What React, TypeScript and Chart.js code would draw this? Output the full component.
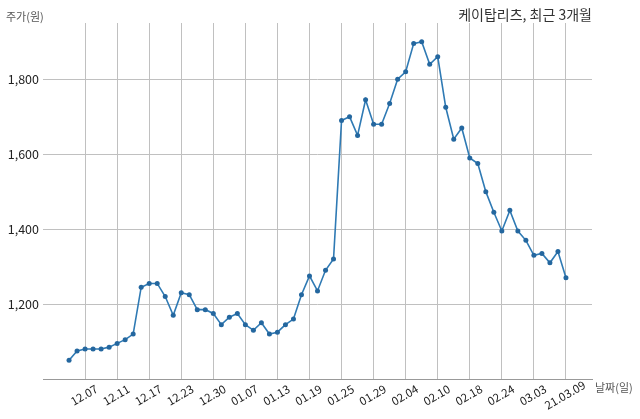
import { useEffect, useRef } from "react";
import { Chart, registerables } from "chart.js";

Chart.register(...registerables);

const dates = [
  "12.03", "12.04", "12.07", "12.08", "12.09", "12.10", "12.11", "12.14", "12.15", "12.16",
  "12.17", "12.18", "12.21", "12.22", "12.23", "12.24", "12.28", "12.29", "12.30",
  "01.04", "01.05", "01.06", "01.07", "01.08", "01.11", "01.12", "01.13", "01.14", "01.15",
  "01.18", "01.19", "01.20", "01.21", "01.22", "01.25", "01.26", "01.27", "01.28", "01.29",
  "02.01", "02.02", "02.03", "02.04", "02.05", "02.08", "02.09", "02.10", "02.15", "02.16",
  "02.17", "02.18", "02.19", "02.22", "02.23", "02.24", "02.25", "02.26",
  "03.02", "03.03", "03.04", "03.05", "03.08", "21.03.09",
];

const prices = [
  1050, 1075, 1080, 1080, 1080, 1085, 1095, 1105, 1120, 1245,
  1255, 1255, 1220, 1170, 1230, 1225, 1185, 1185, 1175, 1145,
  1165, 1175, 1145, 1130, 1150, 1120, 1125, 1145, 1160, 1225,
  1275, 1235, 1290, 1320, 1690, 1700, 1650, 1745, 1680, 1680,
  1735, 1800, 1820, 1895, 1900, 1840, 1860, 1725, 1640, 1670,
  1590, 1575, 1500, 1445, 1395, 1450, 1395, 1370, 1330, 1335,
  1310, 1340, 1270,
];

const tickLabels = [
  "12.07", "12.11", "12.17", "12.23", "12.30", "01.07", "01.13", "01.19",
  "01.25", "01.29", "02.04", "02.10", "02.18", "02.24", "03.03", "21.03.09",
];

const yTicks = [1200, 1400, 1600, 1800];

const title = "케이탑리츠, 최근 3개월";
const yTitle = "주가(원)";
const xTitle = "날짜(일)";

const FONT = '"Noto Sans CJK KR", "Noto Sans", sans-serif';

const labelsPlugin = {
  id: "labels",
  afterDraw(chart: Chart) {
    const ctx = chart.ctx;
    const xs = chart.scales.x;
    const ys = chart.scales.y;
    const area = chart.chartArea;
    ctx.save();

    // y tick labels
    ctx.fillStyle = "#222";
    ctx.font = `12.5px ${FONT}`;
    ctx.textAlign = "right";
    ctx.textBaseline = "middle";
    yTicks.forEach((v) => {
      ctx.fillText(v.toLocaleString("en-US"), area.left - 4, ys.getPixelForValue(v));
    });

    // x tick labels, rotated around their centre
    ctx.font = `11.5px ${FONT}`;
    ctx.textAlign = "center";
    tickLabels.forEach((lab) => {
      const px = xs.getPixelForValue(dates.indexOf(lab));
      ctx.save();
      ctx.translate(px - 1, area.bottom + 16);
      ctx.rotate(-Math.PI / 6);
      ctx.fillText(lab, 0, 0);
      ctx.restore();
    });

    // axis titles and chart title
    ctx.fillStyle = "#555";
    ctx.font = `11px ${FONT}`;
    ctx.textAlign = "left";
    ctx.fillText(yTitle, 6, 17);
    ctx.fillText(xTitle, area.right + 3, area.bottom + 9);

    ctx.fillStyle = "#333";
    ctx.font = `14px ${FONT}`;
    ctx.textAlign = "right";
    ctx.fillText(title, area.right, 15);
    ctx.restore();
  },
};

export default function App() {
  const chartRef = useRef<HTMLCanvasElement>(null);

  useEffect(() => {
    if (!chartRef.current) return;
    const tickIdx = tickLabels.map((t) => dates.indexOf(t));

    const chart = new Chart(chartRef.current, {
      type: "line",
      data: {
        datasets: [
          {
            data: prices.map((p, i) => ({ x: i, y: p })),
            borderColor: "#2f7ab4",
            borderWidth: 1.6,
            pointRadius: 2.5,
            pointBackgroundColor: "#24679f",
            pointBorderColor: "#24679f",
            pointBorderWidth: 0,
            tension: 0,
          },
        ],
      },
      options: {
        animation: false,
        responsive: true,
        maintainAspectRatio: false,
        layout: { padding: { left: 43, right: 48, top: 23, bottom: 40 } },
        plugins: {
          legend: { display: false },
          tooltip: { enabled: false },
        },
        scales: {
          x: {
            type: "linear",
            min: -3.25,
            max: 65.25,
            afterBuildTicks: (scale) => {
              scale.ticks = tickIdx.map((v) => ({ value: v }));
            },
            ticks: { display: false },
            grid: { color: "#c0c0c0", lineWidth: 1, drawTicks: false },
            border: { display: true, color: "#999", width: 1 },
          },
          y: {
            min: 1000,
            max: 1950,
            afterBuildTicks: (scale) => {
              scale.ticks = yTicks.map((v) => ({ value: v }));
            },
            ticks: { display: false },
            grid: { color: "#c0c0c0", lineWidth: 1, drawTicks: false },
            border: { display: false },
          },
        },
      },
      plugins: [labelsPlugin],
    });

    return () => chart.destroy();
  }, []);

  return (
    <div style={{ position: "fixed", left: 0, top: 0, width: 640, height: 419, background: "#fff" }}>
      <canvas ref={chartRef}></canvas>
    </div>
  );
}
